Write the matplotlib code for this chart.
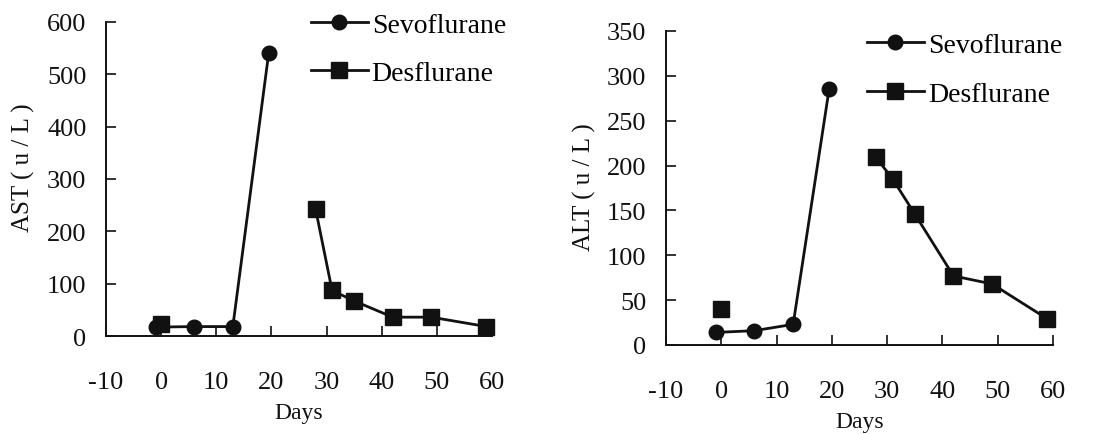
import numpy as np
import matplotlib
matplotlib.use("Agg")
import matplotlib.pyplot as plt

# ---- data ----
sevo_days = [-1, 6, 13, 19.5]
ast_sevo = [17, 18, 18, 540]
alt_sevo = [14, 16, 23, 285]

des_days = [0, 28, 31, 35, 42, 49, 59]
ast_des = [23, 243, 87, 67, 36, 36, 18]
alt_des = [40, 209, 185, 146, 77, 68, 29]

xticks = [-10, 0, 10, 20, 30, 40, 50, 60]
ast_ticks = [0, 100, 200, 300, 400, 500, 600]
alt_ticks = [0, 50, 100, 150, 200, 250, 300, 350]

plt.rcParams['font.family'] = ['Liberation Serif', 'DejaVu Serif']
plt.rcParams['axes.unicode_minus'] = False
ink = '#111111'

fig = plt.figure(figsize=(10.94, 4.35), dpi=100)
W, H = 1094, 435

def make_ax(l, r, b, t):
    return fig.add_axes([l / W, 1 - b / H, (r - l) / W, (b - t) / H])

axes = [make_ax(106, 492, 337, 23), make_ax(666, 1053, 346, 32)]
specs = [
    (ast_sevo, ast_des, ast_ticks, 600, 'AST ( u / L )', (0.53, 1.03), 0.8, (-0.184, 0.538), -0.21),
    (alt_sevo, alt_des, alt_ticks, 350, 'ALT ( u / L )', (0.519, 0.995), 0.85, (-0.181, 0.507), -0.21),
]

for ax, (sv, ds, yt, ymax, ylab, legpos, lsp, ylabpos, xlaby) in zip(axes, specs):
    l1, = ax.plot(sevo_days, sv, '-o', color=ink, lw=2.0, ms=10.5,
                  label='Sevoflurane', clip_on=False, zorder=3)
    ax.plot(des_days[:1], ds[:1], 's', color=ink, ms=11, clip_on=False, zorder=3)
    l2, = ax.plot(des_days[1:], ds[1:], '-s', color=ink, lw=2.0, ms=11,
                  label='Desflurane', clip_on=False, zorder=3)
    ax.set_xlim(-10, 60)
    ax.set_ylim(0, ymax)
    ax.set_xticks(xticks)
    ax.set_yticks(yt)
    for s in ['top', 'right']:
        ax.spines[s].set_visible(False)
    for s in ['left', 'bottom']:
        ax.spines[s].set_linewidth(1.4)
        ax.spines[s].set_color(ink)
    ax.tick_params(axis='x', direction='in', length=7, width=1.2, pad=25,
                   labelsize=19, colors=ink)
    ax.tick_params(axis='y', direction='in', length=7, width=1.2, pad=14,
                   labelsize=19, colors=ink)
    ax.set_ylabel(ylab, fontsize=18, color=ink)
    ax.yaxis.set_label_coords(*ylabpos)
    ax.set_xlabel('Days', fontsize=17, color=ink)
    ax.xaxis.set_label_coords(0.5, xlaby)
    ax.legend(handles=[l1, l2], loc='upper left', bbox_to_anchor=legpos,
              frameon=False, fontsize=20, handlelength=2.05, handletextpad=0.15,
              labelspacing=lsp, borderpad=0, borderaxespad=0)

fig.savefig('out.png', dpi=100, facecolor='white')
